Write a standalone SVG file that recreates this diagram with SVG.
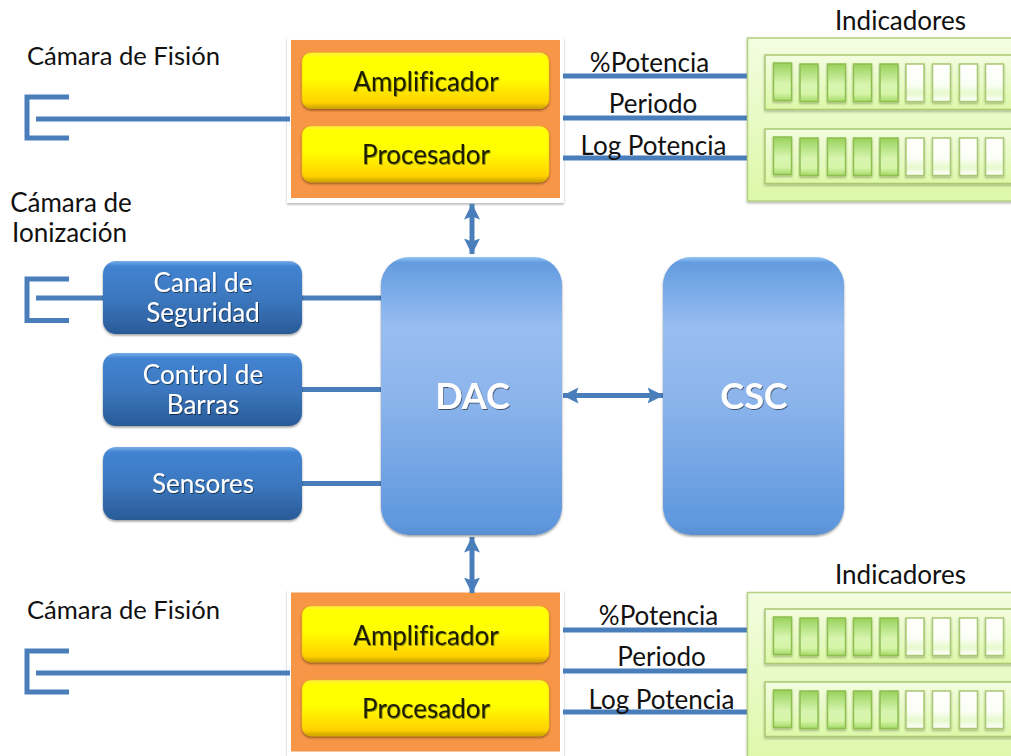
<svg xmlns="http://www.w3.org/2000/svg" xmlns:xlink="http://www.w3.org/1999/xlink" width="1011" height="756" viewBox="0 0 1011 756">
<style>
text{font-family:"Lato","Open Sans","Liberation Sans",sans-serif;font-variant-ligatures:none}
.lbl{font-size:26px;fill:#111}
.cam{font-size:25.6px}
.mid{text-anchor:middle}
.yt{font-size:26px;fill:#1a1a00;text-anchor:middle;filter:url(#tsy)}
.wt{font-size:26px;fill:#fff;text-anchor:middle;filter:url(#tsd)}
.bt{font-size:36px;font-weight:700;fill:#fff;text-anchor:middle;filter:url(#tsd)}
.ln{stroke:#4a7ebb;stroke-width:5;fill:none}
.frame{fill:#fff;filter:url(#sh)}
.org{fill:#f79646}
.yb{fill:url(#gy);stroke:#e8c000;stroke-width:.5;filter:url(#shd)}
.sb{fill:url(#gs);filter:url(#shs)}
.bb{fill:url(#gb);filter:url(#shs)}
.panel{fill:url(#gp);stroke:#b5d083;stroke-width:1.5;filter:url(#sh)}
.inner{fill:url(#gp);stroke:#a9c872;stroke-width:1.5;filter:url(#sh)}
.on{fill:url(#gon);stroke:#8fbf50;stroke-width:1.5;filter:url(#sh)}
.off{fill:url(#goff);stroke:#a9c872;stroke-width:1.5;filter:url(#sh)}
</style>
<defs>
<linearGradient id="gy" x1="0" y1="0" x2="0" y2="1"><stop offset="0" stop-color="#ffe94a"/><stop offset=".08" stop-color="#ffff00"/><stop offset=".45" stop-color="#ffff00"/><stop offset=".9" stop-color="#ffd000"/><stop offset="1" stop-color="#c9a000"/></linearGradient>
<linearGradient id="gs" x1="0" y1="0" x2="0" y2="1"><stop offset="0" stop-color="#78aee8"/><stop offset=".07" stop-color="#4283d2"/><stop offset=".5" stop-color="#3c78bf"/><stop offset=".93" stop-color="#2c5f9e"/><stop offset="1" stop-color="#2a5a94"/></linearGradient>
<linearGradient id="gb" x1="0" y1="0" x2="0" y2="1"><stop offset="0" stop-color="#92c6f5"/><stop offset=".02" stop-color="#639ce0"/><stop offset=".25" stop-color="#98bdf0"/><stop offset=".5" stop-color="#8db5ec"/><stop offset=".96" stop-color="#5f98de"/><stop offset="1" stop-color="#5a8fd2"/></linearGradient>
<linearGradient id="gp" x1="0" y1="0" x2="0" y2="1"><stop offset="0" stop-color="#f3fde0"/><stop offset="1" stop-color="#dcf8a8"/></linearGradient>
<linearGradient id="gon" x1="0" y1="0" x2="0" y2="1"><stop offset="0" stop-color="#98d25c"/><stop offset=".55" stop-color="#d8f5b0"/><stop offset=".8" stop-color="#d6f5a8"/><stop offset="1" stop-color="#a4da68"/></linearGradient>
<linearGradient id="goff" x1="0" y1="0" x2="0" y2="1"><stop offset="0" stop-color="#fff"/><stop offset=".55" stop-color="#fbfef5"/><stop offset=".78" stop-color="#e6f9cc"/><stop offset="1" stop-color="#fff"/></linearGradient>
<filter id="sh" x="-10%" y="-10%" width="120%" height="125%"><feDropShadow dx="0" dy="1.5" stdDeviation="1.2" flood-color="#000" flood-opacity=".3"/></filter>
<filter id="shd" x="-5%" y="-10%" width="110%" height="125%"><feDropShadow dx="0" dy="1.5" stdDeviation="1" flood-color="#402000" flood-opacity=".6"/></filter>
<filter id="shs" x="-5%" y="-10%" width="110%" height="125%"><feDropShadow dx="0" dy="1.5" stdDeviation="1.3" flood-color="#000" flood-opacity=".4"/></filter>
<filter id="tsy" x="-10%" y="-20%" width="120%" height="150%"><feDropShadow dx=".7" dy=".9" stdDeviation=".5" flood-color="#606000" flood-opacity=".8"/></filter>
<filter id="tsd" x="-10%" y="-20%" width="120%" height="150%"><feDropShadow dx=".8" dy="1" stdDeviation=".7" flood-color="#000" flood-opacity=".55"/></filter>
<marker id="ah" viewBox="0 0 17 17" refX="15.500" refY="8.500" markerUnits="userSpaceOnUse" markerWidth="17" markerHeight="17" orient="auto-start-reverse"><path d="M0 0.500L16 8.500L0 16.500L3 8.500Z" fill="#4a7ebb"/></marker>
<g id="bars">
<rect class="inner" x="765" y="0" width="260" height="54.5"/>
<rect class="on" x="773.500" y="8" width="18" height="37.500"/>
<rect class="on" x="800" y="9" width="18" height="37.500"/>
<rect class="on" x="827.500" y="9" width="18" height="37.500"/>
<rect class="on" x="853.500" y="9" width="18" height="37.500"/>
<rect class="on" x="880" y="9" width="18" height="37.500"/>
<rect class="off" x="906" y="9" width="18" height="37.500"/>
<rect class="off" x="932.500" y="9" width="18" height="37.500"/>
<rect class="off" x="959.500" y="9" width="18" height="37.500"/>
<rect class="off" x="985.500" y="9" width="18" height="37.500"/>
</g>
</defs>
<rect width="1011" height="756" fill="#fff"/>
<g id="procesamiento-superior-fondo">
<rect class="frame" x="287" y="37" width="277" height="166"/>
<rect class="org" x="291" y="40" width="269" height="158"/>
</g>
<g id="procesamiento-inferior-fondo">
<rect class="frame" x="287" y="590" width="277" height="166"/>
<rect class="org" x="291" y="592.500" width="269" height="159"/>
</g>
<g id="connectors">
<path class="ln" d="M27 97H69M27 138H69M27 94.500V140.500"/>
<path class="ln" d="M36 119H290"/>
<path class="ln" d="M27 279H69M27 320.500H69M27 276.500V323"/>
<path class="ln" d="M36 298H103M302 298H381M302 389.500H381M302 483.500H381"/>
<path class="ln" d="M27 651H69M27 692H69M27 648.500V694.500"/>
<path class="ln" d="M36 673H290"/>
<path class="ln" d="M563 76H748M563 118H748M563 158H748"/>
<path class="ln" d="M563 630H748M563 671H748M563 712H748"/>
<path class="ln" marker-start="url(#ah)" marker-end="url(#ah)" d="M472 204V254"/>
<path class="ln" marker-start="url(#ah)" marker-end="url(#ah)" d="M472 537V593"/>
<path class="ln" marker-start="url(#ah)" marker-end="url(#ah)" d="M563 395.500H663"/>
</g>
<g id="label-camara-fision-1"><text class="lbl cam" x="27" y="65">Cámara de Fisión</text></g>
<g id="label-camara-ionizacion"><text class="lbl mid" x="71" y="212">Cámara de</text><text class="lbl mid" x="69.500" y="242">Ionización</text></g>
<g id="label-camara-fision-2"><text class="lbl cam" x="27" y="619">Cámara de Fisión</text></g>
<g id="amplificador-superior"><rect class="yb" x="302" y="52.500" width="247" height="56" rx="9"/><text class="yt" x="426" y="91">Amplificador</text></g>
<g id="procesador-superior"><rect class="yb" x="302" y="126" width="247" height="56" rx="9"/><text class="yt" x="426" y="164">Procesador</text></g>
<g id="amplificador-inferior"><rect class="yb" x="302" y="606" width="247" height="56" rx="9"/><text class="yt" x="426" y="645">Amplificador</text></g>
<g id="procesador-inferior"><rect class="yb" x="302" y="680" width="247" height="56" rx="9"/><text class="yt" x="426" y="718">Procesador</text></g>
<g id="indicadores-superior">
<text class="lbl" x="835" y="30">Indicadores</text>
<rect class="panel" x="747.500" y="38" width="280" height="163"/>
<use xlink:href="#bars" href="#bars" y="55"/>
<use xlink:href="#bars" href="#bars" y="129"/>
</g>
<g id="labels-superior">
<text class="lbl mid" x="649.500" y="72">%Potencia</text>
<text class="lbl mid" x="653" y="113">Periodo</text>
<text class="lbl mid" x="653.500" y="155">Log Potencia</text>
</g>
<g id="indicadores-inferior">
<text class="lbl" x="835" y="584">Indicadores</text>
<rect class="panel" x="747.500" y="592.500" width="280" height="175"/>
<use xlink:href="#bars" href="#bars" y="609"/>
<use xlink:href="#bars" href="#bars" y="682"/>
</g>
<g id="labels-inferior">
<text class="lbl mid" x="658.500" y="625">%Potencia</text>
<text class="lbl mid" x="661.500" y="666">Periodo</text>
<text class="lbl mid" x="661.500" y="709">Log Potencia</text>
</g>
<g id="canal-seguridad"><rect class="sb" x="103" y="261" width="199" height="73" rx="13"/><text class="wt" x="203" y="292">Canal de</text><text class="wt" x="203" y="322">Seguridad</text></g>
<g id="control-barras"><rect class="sb" x="103" y="353" width="199" height="73" rx="13"/><text class="wt" x="203" y="384">Control de</text><text class="wt" x="203" y="414">Barras</text></g>
<g id="sensores"><rect class="sb" x="103" y="447" width="199" height="73" rx="13"/><text class="wt" x="203" y="493">Sensores</text></g>
<g id="dac"><rect class="bb" x="381" y="257" width="181" height="278" rx="28"/><text class="bt" x="472.500" y="409">DAC</text></g>
<g id="csc"><rect class="bb" x="663" y="257" width="181" height="278" rx="28"/><text class="bt" x="754" y="409">CSC</text></g>
</svg>
